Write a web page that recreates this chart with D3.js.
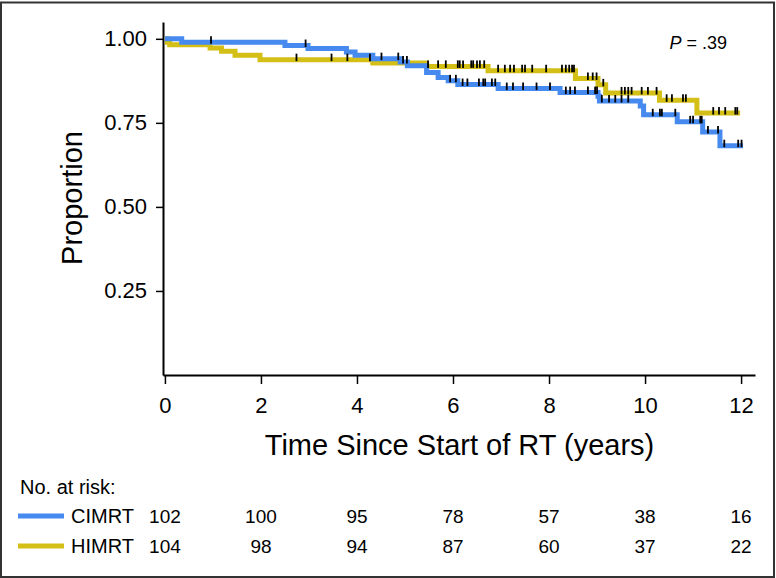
<!DOCTYPE html>
<html>
<head>
<meta charset="utf-8">
<script src="https://cdn.jsdelivr.net/npm/d3@7"></script>
<style>
  html, body { margin: 0; padding: 0; background: #fff; }
  svg { display: block; }
  text { font-family: "Liberation Sans", Arial, Helvetica, sans-serif; fill: #000; }
</style>
</head>
<body>
<svg id="chart" width="776" height="578"></svg>
<script>
// ---------- data ----------
const groups = ["CIMRT", "HIMRT"];
const groupColors = ["#4689ef", "#d3bf16"];
const xTickValues = [0, 2, 4, 6, 8, 10, 12];
const yTickValues = [0.25, 0.50, 0.75, 1.00];
const riskCIMRT = [102, 100, 95, 78, 57, 38, 16];
const riskHIMRT = [104, 98, 94, 87, 60, 37, 22];
const pValueText = ".39";

// Kaplan-Meier step curves (time in years, proportion after step)
const cimrtTime = [0, 0.35, 2.5, 2.98, 3.78, 3.96, 4.33, 4.9, 5.05, 5.45, 5.69, 5.9, 6.1, 6.94, 8.23, 9.02, 9.05, 9.9, 9.97, 10.67, 11.2, 11.56, 12.04];
const cimrtSurv = [1, 0.990, 0.980, 0.971, 0.961, 0.951, 0.941, 0.931, 0.920, 0.900, 0.885, 0.875, 0.864, 0.852, 0.840, 0.829, 0.815, 0.800, 0.774, 0.753, 0.723, 0.682, 0.682];
const himrtTime = [0, 0.05, 0.1, 0.94, 1.18, 1.46, 1.98, 4.33, 5.45, 6.73, 8.55, 9.02, 9.18, 10.3, 11.08, 11.98];
const himrtSurv = [1, 0.990, 0.982, 0.973, 0.963, 0.951, 0.938, 0.928, 0.918, 0.905, 0.882, 0.863, 0.839, 0.817, 0.779, 0.779];

// censoring times (years)
const cimrtCensor = [0.96, 2.93, 4.51, 4.86, 4.96, 5.04, 5.94, 6.06, 6.20, 6.30, 6.54, 6.63, 6.67, 6.81, 6.88, 7.12, 7.25, 7.46, 7.74, 8.02, 8.35, 8.44, 8.54, 8.81, 8.96, 9.00, 9.10, 9.25, 9.38, 9.51, 9.65, 10.16, 10.31, 10.35, 10.63, 10.94, 11.00, 11.15, 11.18, 11.31, 11.52, 11.65, 11.94, 12.01];
const himrtCensor = [2.74, 3.47, 3.80, 4.27, 5.48, 5.69, 5.85, 6.10, 6.14, 6.21, 6.38, 6.42, 6.50, 6.56, 6.65, 6.94, 7.08, 7.19, 7.27, 7.44, 7.50, 7.65, 7.94, 8.27, 8.35, 8.42, 8.48, 8.52, 8.81, 8.91, 8.99, 9.13, 9.51, 9.58, 9.65, 9.72, 9.93, 10.06, 10.24, 10.45, 10.56, 10.79, 10.85, 11.42, 11.54, 11.67, 11.88, 11.92];

// ---------- chart ----------
const svg = d3.select("#chart");

// outer frame
svg.append("rect")
  .attr("x", 1).attr("y", 2.5).attr("width", 773).attr("height", 574.5)
  .attr("fill", "none").attr("stroke", "#333").attr("stroke-width", 2);

const x = d3.scaleLinear().domain([-0.04, 12.29]).range([163, 755]);
const y = d3.scaleLinear().domain([0, 1.05]).range([375, 22]);

// y axis
const yAxis = svg.append("g")
  .attr("transform", `translate(${x(-0.04)},0)`)
  .call(d3.axisLeft(y).tickValues(yTickValues).tickFormat(d3.format(".2f"))
    .tickSize(7).tickPadding(9).tickSizeOuter(0));
yAxis.selectAll("path.domain").attr("stroke", "#000").attr("stroke-width", 2);
yAxis.selectAll(".tick line").attr("stroke", "#000").attr("stroke-width", 1.5);
yAxis.selectAll(".tick text").style("font-size", "22px").attr("fill", "#000")
  .style("font-family", "'Liberation Sans', Arial, sans-serif");

// x axis
const xAxis = svg.append("g")
  .attr("transform", `translate(0,${y(0)})`)
  .call(d3.axisBottom(x).tickValues(xTickValues).tickFormat(d3.format("d"))
    .tickSize(9).tickPadding(13).tickSizeOuter(0));
xAxis.selectAll("path.domain").attr("stroke", "#000").attr("stroke-width", 2);
xAxis.selectAll(".tick line").attr("stroke", "#000").attr("stroke-width", 1.5);
xAxis.selectAll(".tick text").style("font-size", "22px").attr("fill", "#000")
  .style("font-family", "'Liberation Sans', Arial, sans-serif");

// axis titles
svg.append("text")
  .attr("transform", `translate(82,198) rotate(-90)`)
  .attr("text-anchor", "middle")
  .style("font-size", "29px")
  .text("Proportion");

svg.append("text")
  .attr("x", 459.5).attr("y", 455)
  .attr("text-anchor", "middle")
  .style("font-size", "29px")
  .text("Time Since Start of RT (years)");

// p value
const pText = svg.append("text")
  .attr("x", 727).attr("y", 49)
  .attr("text-anchor", "end")
  .style("font-size", "18px");
pText.append("tspan").style("font-style", "italic").text("P");
pText.append("tspan").text(" = " + pValueText);

// curves
const series = [
  { name: groups[0], time: cimrtTime, surv: cimrtSurv, censor: cimrtCensor, color: groupColors[0] },
  { name: groups[1], time: himrtTime, surv: himrtSurv, censor: himrtCensor, color: groupColors[1] }
];

const line = d3.line().curve(d3.curveStepAfter)
  .x(d => x(d[0])).y(d => y(d[1]));

function survAt(s, t) {
  let v = s.surv[0];
  for (let i = 0; i < s.time.length; i++) {
    if (s.time[i] <= t) v = s.surv[i]; else break;
  }
  return v;
}

[series[1], series[0]].forEach(s => {
  const pts = s.time.map((t, i) => [t, s.surv[i]]);
  svg.append("path")
    .datum(pts)
    .attr("d", line)
    .attr("fill", "none")
    .attr("stroke", s.color)
    .attr("stroke-width", 5)
    .attr("stroke-linejoin", "miter")
    .attr("stroke-linecap", "butt");
});

series.forEach(s => {
  svg.append("g").selectAll("line")
    .data(s.censor)
    .join("line")
    .attr("x1", d => x(d)).attr("x2", d => x(d))
    .attr("y1", d => y(survAt(s, d)) - 6)
    .attr("y2", d => y(survAt(s, d)) + 1.5)
    .attr("stroke", "#000")
    .attr("stroke-width", 1.8);
});

// risk table
svg.append("text")
  .attr("x", 20).attr("y", 494)
  .style("font-size", "20px")
  .text("No. at risk:");

const riskRows = [riskCIMRT, riskHIMRT];
const rowY = [516, 546];
riskRows.forEach((row, gi) => {
  svg.append("line")
    .attr("x1", 18).attr("x2", 64)
    .attr("y1", rowY[gi]).attr("y2", rowY[gi])
    .attr("stroke", groupColors[gi]).attr("stroke-width", 5);
  svg.append("text")
    .attr("x", 71).attr("y", rowY[gi])
    .attr("dy", "0.35em")
    .style("font-size", "20px")
    .text(groups[gi]);
  svg.append("g").selectAll("text")
    .data(row)
    .join("text")
    .attr("x", (d, i) => x(xTickValues[i]))
    .attr("y", rowY[gi])
    .attr("dy", "0.35em")
    .attr("text-anchor", "middle")
    .style("font-size", "19px")
    .text(d => d);
});
</script>
</body>
</html>
